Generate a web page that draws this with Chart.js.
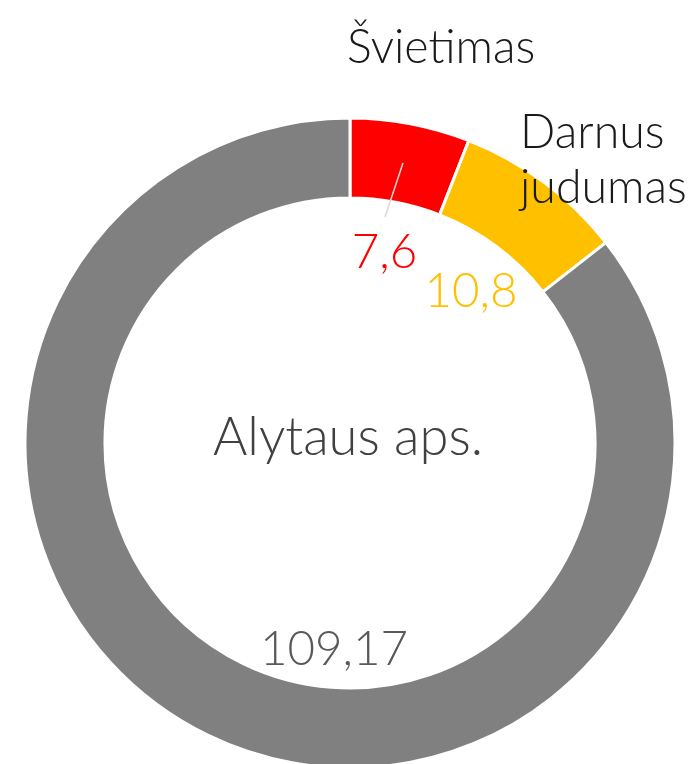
<!DOCTYPE html>
<html><head><meta charset="utf-8">
<script src="https://cdn.jsdelivr.net/npm/chart.js@4/dist/chart.umd.min.js"></script>
<style>html,body{margin:0;padding:0;background:#fff;overflow:hidden}#wrap{width:697px;height:764px;position:relative}</style>
</head><body><div id="wrap"><canvas id="c" width="697" height="764"></canvas></div>
<script>
const categories = ["Švietimas", "Darnus judumas", "Kita"];
const values = [7.6, 10.8, 109.17];
const valueLabels = ["7,6", "10,8", "109,17"];
const colors = ["#FF0000", "#FFC000", "#808080"];
const valueColors = ["#FF0000", "#FFC000", "#595959"];
const centerTitle = "Alytaus aps.";
const categoryLines = [["Švietimas"], ["Darnus", "judumas"], []];

// label placement offsets relative to the doughnut centre (style/layout only)
const catPos = [{dx: -3, dy: -380}, {dx: 170, dy: -295}, null];
const valPos = [{dx: 34.5, dy: -175}, {dx: 121, dy: -136}, {dx: -16, dy: 222}];

const labelPlugin = {
  id: 'labels',
  afterDatasetsDraw(chart) {
    const ctx = chart.ctx;
    const arc = chart.getDatasetMeta(0).data[0];
    const cx = arc.x, cy = arc.y;
    ctx.save();
    // leader line for first slice
    ctx.strokeStyle = '#D9D9D9';
    ctx.lineWidth = 1.5;
    ctx.beginPath();
    ctx.moveTo(cx + 53, cy - 280);
    ctx.lineTo(cx + 35, cy - 226);
    ctx.stroke();
    ctx.textBaseline = 'alphabetic';
    // category labels
    ctx.font = '300 46.5px Lato';
    ctx.fillStyle = '#1A1A1A';
    ctx.textAlign = 'left';
    categoryLines.forEach((lines, i) => {
      const p = catPos[i];
      if (!p) return;
      lines.forEach((t, j) => ctx.fillText(t, cx + p.dx, cy + p.dy + j * 55));
    });
    // value labels
    ctx.font = '300 47.5px Lato';
    ctx.textAlign = 'center';
    valueLabels.forEach((t, i) => {
      const p = valPos[i];
      ctx.fillStyle = valueColors[i];
      ctx.fillText(t, cx + p.dx, cy + p.dy);
    });
    // centre title
    ctx.font = '300 52.5px Lato';
    ctx.fillStyle = '#404040';
    ctx.fillText(centerTitle, cx - 2, cy + 12);
    ctx.restore();
  }
};

new Chart(document.getElementById('c'), {
  type: 'doughnut',
  data: {
    labels: categories,
    datasets: [{
      data: values,
      backgroundColor: colors,
      borderColor: '#FFFFFF',
      borderWidth: 3,
      clip: false
    }]
  },
  options: {
    responsive: false,
    animation: false,
    events: [],
    radius: 325,
    cutout: '75.4%',
    layout: {padding: {left: 3, right: 0, top: 122, bottom: 0}},
    plugins: {legend: {display: false}, tooltip: {enabled: false}}
  },
  plugins: [labelPlugin]
});
</script></body></html>
